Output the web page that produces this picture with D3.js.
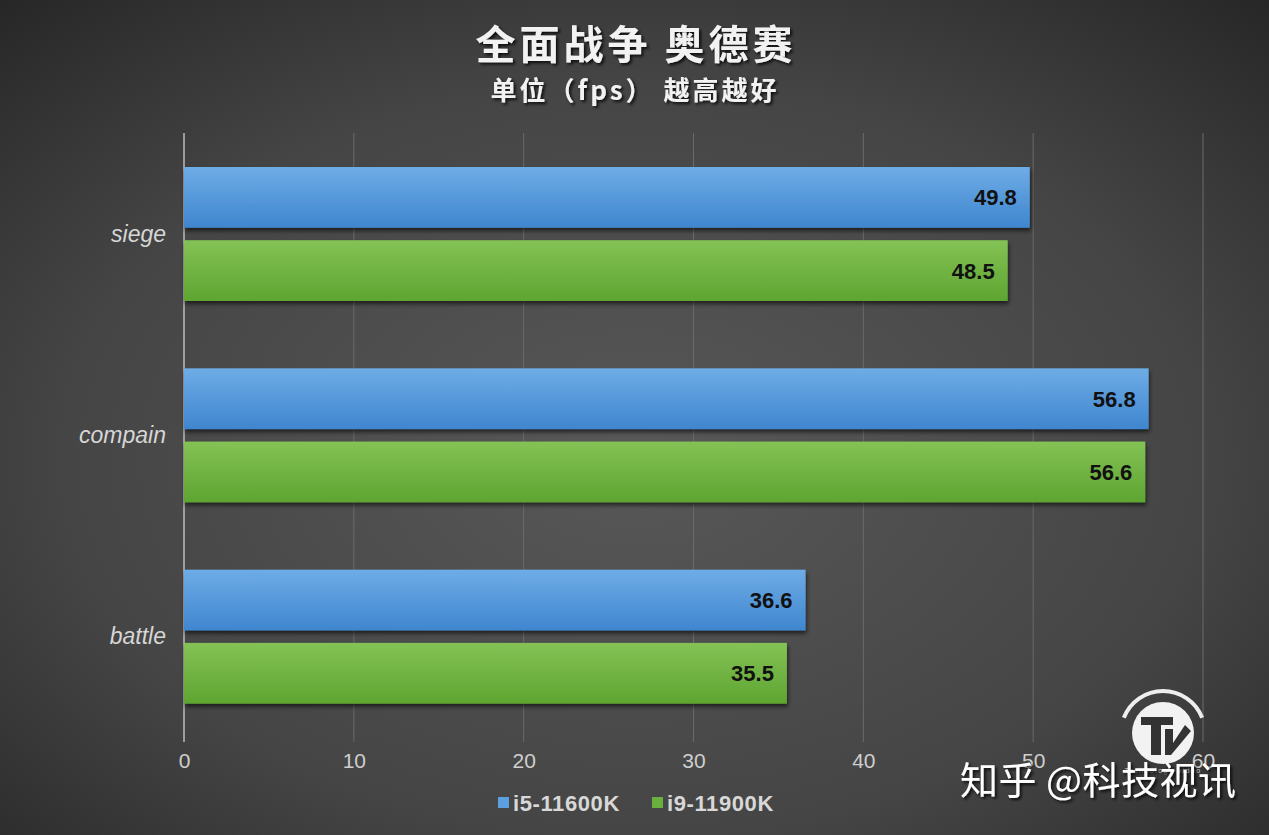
<!DOCTYPE html>
<html><head><meta charset="utf-8">
<script src="https://cdn.jsdelivr.net/npm/d3@7"></script>
<style>body{margin:0;background:#333;}svg{display:block;}</style>
</head><body>
<svg id="c" width="1269" height="835"></svg>
<script>
const categories = ["siege", "compain", "battle"];
const seriesNames = ["i5-11600K", "i9-11900K"];
const i5Values = [49.8, 56.8, 36.6];
const i9Values = [48.5, 56.6, 35.5];
const xTicks = [0, 10, 20, 30, 40, 50, 60];
const titleText = "全面战争 奥德赛";
const subtitleText = "单位（fps） 越高越好";
const watermarkText = "知乎 @科技视讯";

const W = 1269, H = 835;
const svg = d3.select("#c");
const defs = svg.append("defs");
const latin = "'Liberation Sans', Arial, sans-serif";

const bg = defs.append("radialGradient").attr("id","bg").attr("cx","50%").attr("cy","55%").attr("r","75%");
bg.append("stop").attr("offset","0%").attr("stop-color","#585858");
bg.append("stop").attr("offset","60%").attr("stop-color","#454545");
bg.append("stop").attr("offset","100%").attr("stop-color","#262626");
svg.append("rect").attr("width",W).attr("height",H).attr("fill","url(#bg)");

const gBlue = defs.append("linearGradient").attr("id","gb").attr("x1",0).attr("y1",0).attr("x2",0).attr("y2",1);
gBlue.append("stop").attr("offset","0%").attr("stop-color","#6eace6");
gBlue.append("stop").attr("offset","100%").attr("stop-color","#3f86cf");
const gGreen = defs.append("linearGradient").attr("id","gg").attr("x1",0).attr("y1",0).attr("x2",0).attr("y2",1);
gGreen.append("stop").attr("offset","0%").attr("stop-color","#84c255");
gGreen.append("stop").attr("offset","100%").attr("stop-color","#5ea531");
const sh = defs.append("filter").attr("id","sh").attr("x","-5%").attr("y","-20%").attr("width","110%").attr("height","150%");
sh.append("feDropShadow").attr("dx",1).attr("dy",3).attr("stdDeviation",2).attr("flood-color","#000").attr("flood-opacity",0.6);
const tsh = defs.append("filter").attr("id","tsh").attr("x","-10%").attr("y","-30%").attr("width","120%").attr("height","160%");
tsh.append("feDropShadow").attr("dx",2).attr("dy",2).attr("stdDeviation",1.5).attr("flood-color","#000").attr("flood-opacity",0.8);

const x = d3.scaleLinear().domain([0,60]).range([184,1203]);
const y0 = d3.scaleBand().domain(categories).range([133,737]).paddingInner(0).paddingOuter(0);
const y1 = d3.scaleBand().domain(seriesNames).range([34,168]).paddingInner(0.17);

// gridlines
svg.append("g").selectAll("line").data(xTicks.slice(1)).join("line")
  .attr("x1",d=>x(d)).attr("x2",d=>x(d)).attr("y1",133).attr("y2",742)
  .attr("stroke","#6a6a6a").attr("stroke-width",1);

// axis
const ax = svg.append("g").attr("transform","translate(0,742)")
  .call(d3.axisBottom(x).tickValues(xTicks).tickSize(0).tickPadding(11));
ax.select(".domain").remove();
ax.selectAll("text").attr("fill","#cfcfcf").attr("font-size",21).attr("font-family",latin);
svg.append("line").attr("x1",184).attr("x2",184).attr("y1",133).attr("y2",742).attr("stroke","#bdbdbd").attr("stroke-width",1.5);

// bars
const data = categories.map((c,i)=>({c, vals:[{s:seriesNames[0],v:i5Values[i],f:"url(#gb)"},{s:seriesNames[1],v:i9Values[i],f:"url(#gg)"}]}));
const grp = svg.append("g").selectAll("g").data(data).join("g").attr("transform",d=>`translate(0,${y0(d.c)})`);
grp.selectAll("rect").data(d=>d.vals).join("rect")
  .attr("x",x(0)).attr("y",d=>y1(d.s)).attr("width",d=>x(d.v)-x(0)).attr("height",y1.bandwidth())
  .attr("fill",d=>d.f).attr("filter","url(#sh)");
grp.selectAll("text.v").data(d=>d.vals).join("text").attr("class","v")
  .attr("x",d=>x(d.v)-13).attr("y",d=>y1(d.s)+y1.bandwidth()/2+8)
  .attr("text-anchor","end").attr("font-size",22).attr("font-weight","bold")
  .attr("font-family",latin).attr("fill","#111").text(d=>d.v.toFixed(1));

// category labels
svg.append("g").selectAll("text").data(categories).join("text")
  .attr("x",166).attr("y",d=>y0(d)+y0.bandwidth()/2+8).attr("text-anchor","end")
  .attr("font-size",23).attr("font-style","italic").attr("fill","#d6d6d6")
  .attr("font-family",latin).text(d=>d);

// title
svg.append("text").attr("x",636).attr("y",59).attr("text-anchor","middle")
  .attr("font-size",40).attr("font-weight","bold").attr("fill","#f2f2f2").attr("letter-spacing",4)
  .attr("font-family","'Noto Sans CJK SC', sans-serif").attr("filter","url(#tsh)").text(titleText);
svg.append("text").attr("x",635).attr("y",100).attr("text-anchor","middle")
  .attr("font-size",26).attr("font-weight","bold").attr("fill","#f2f2f2").attr("letter-spacing",3)
  .attr("font-family","'Noto Sans CJK SC', sans-serif").attr("filter","url(#tsh)").text(subtitleText);

// legend
const lg = svg.append("g");
const legItems = [{n:seriesNames[0],c:"#5b9fe0",x:498},{n:seriesNames[1],c:"#6ab03e",x:652}];
lg.selectAll("rect").data(legItems).join("rect").attr("x",d=>d.x).attr("y",797).attr("width",11).attr("height",11).attr("fill",d=>d.c);
lg.selectAll("text").data(legItems).join("text").attr("x",d=>d.x+15).attr("y",811)
  .attr("font-size",22).attr("font-weight","bold").attr("fill","#d8d8d8").attr("letter-spacing",0.6)
  .attr("font-family",latin).text(d=>d.n);

// watermark logo
const logo = svg.append("g").attr("transform","translate(1163,733)");
logo.append("path").attr("d",d3.arc()({innerRadius:40,outerRadius:44,startAngle:-1.2,endAngle:1.2})).attr("fill","#eee");
logo.append("circle").attr("r",31).attr("fill","#f2f2f2");
logo.append("path").attr("d","M-22,-16 L10,-16 L10,-8 L-2,-8 L-2,22 L-12,22 L-12,-8 L-22,-8 Z").attr("fill","#333");
logo.append("path").attr("d","M2,-4 L10,-4 L10,10 L22,-8 L28,-2 L8,22 L2,22 Z").attr("fill","#333");
logo.append("text").attr("x",0).attr("y",40).attr("text-anchor","middle").attr("font-size",7).attr("fill","#ccc")
  .attr("font-family","'DejaVu Sans', sans-serif").attr("letter-spacing",1).text("Technology video");

svg.append("text").attr("x",960).attr("y",794)
  .attr("font-size",38).attr("fill","#ffffff").attr("letter-spacing",0.5)
  .attr("font-family","'Noto Sans CJK SC', sans-serif").attr("filter","url(#tsh)").text(watermarkText);
</script>
</body></html>
